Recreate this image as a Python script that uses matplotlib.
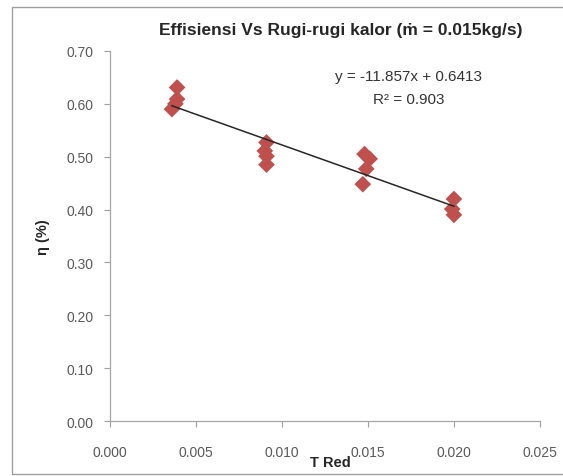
import numpy as np
import matplotlib.pyplot as plt
from matplotlib.patches import Rectangle

plt.rcParams['font.family'] = ['Liberation Sans Narrow', 'Liberation Sans', 'DejaVu Sans']

# data
t_red = [0.0036, 0.0039, 0.0039, 0.0038,
         0.0091, 0.0090, 0.0091, 0.0091,
         0.0148, 0.0151, 0.0149, 0.0147,
         0.0200, 0.0199, 0.0200]
eta = [0.590, 0.631, 0.609, 0.600,
       0.527, 0.511, 0.501, 0.485,
       0.505, 0.496, 0.477, 0.448,
       0.420, 0.401, 0.390]

title = 'Effisiensi Vs Rugi-rugi kalor (ṁ = 0.015kg/s)'
eq_text = 'y = -11.857x + 0.6413\nR² = 0.903'
x_ticks = [0.000, 0.005, 0.010, 0.015, 0.020, 0.025]
y_ticks = [0.00, 0.10, 0.20, 0.30, 0.40, 0.50, 0.60, 0.70]

fig = plt.figure(figsize=(5.63, 4.77), dpi=100)
ax = fig.add_axes([0.1954, 0.1153, 0.7636, 0.7757])

# outer chart border
fig.patches.append(Rectangle((12 / 563, 2 / 477), 1.0, 1 - 10 / 477, transform=fig.transFigure,
                             fill=False, edgecolor='#a0a0a0', linewidth=1.0))

ax.scatter(t_red, eta, marker='D', s=72, color='#C0504D', edgecolors='none', zorder=3)

# linear trend
k, b = np.polyfit(t_red, eta, 1)
xs = np.array([min(t_red), max(t_red)])
ax.plot(xs, k * xs + b, color='#262626', linewidth=1.1, zorder=4)

ax.text(0.01738, 0.631, eq_text, ha='center', va='center', fontsize=11, color='#333333',
        linespacing=1.75)

ax.set_xlim(0, 0.025)
ax.set_ylim(0, 0.70)
ax.set_xticks(x_ticks)
ax.set_yticks(y_ticks)
ax.set_xticklabels([f'{v:.3f}' for v in x_ticks])
ax.set_yticklabels([f'{v:.2f}' for v in y_ticks])
ax.tick_params(axis='both', labelsize=10, colors='#a0a0a0', labelcolor='#595959',
               length=4, width=0.8, direction='out')
ax.tick_params(axis='x', pad=13)
ax.tick_params(axis='y', pad=8)
for side in ['top', 'right']:
    ax.spines[side].set_visible(False)
for side in ['left', 'bottom']:
    ax.spines[side].set_color('#a6a6a6')
    ax.spines[side].set_linewidth(0.9)

ax.set_ylabel('η (%)', fontsize=10.5, fontweight='bold', color='#262626', labelpad=12)
fig.text(330 / 563, 1 - 463 / 477, 'T Red', ha='center', va='center', fontsize=10.5,
         fontweight='bold', color='#262626')
fig.text(341 / 563, 1 - 30 / 477, title, ha='center', va='center', fontsize=12.5,
         fontweight='bold', color='#262626')

fig.savefig('out.png', dpi=100)
